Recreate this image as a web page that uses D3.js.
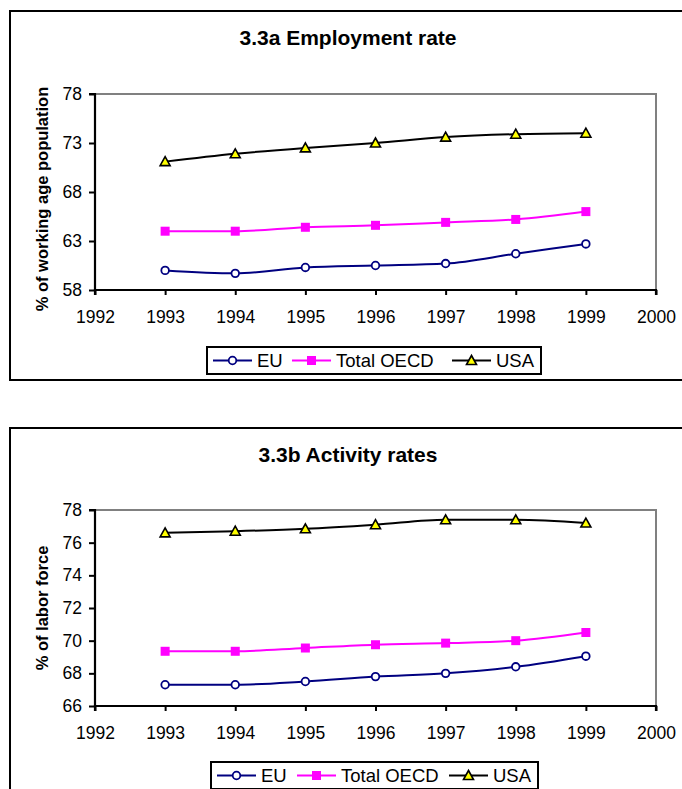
<!DOCTYPE html>
<html>
<head>
<meta charset="utf-8">
<script src="https://cdn.jsdelivr.net/npm/d3@7"></script>
<style>
  html, body { margin: 0; padding: 0; background: #fff; }
  svg { display: block; font-family: "Liberation Sans", Arial, sans-serif; }
</style>
</head>
<body>
<svg id="chart" width="682" height="789"></svg>
<script>
// Years shown on the x axis and their tick labels
const years = [1993, 1994, 1995, 1996, 1997, 1998, 1999];
const yearTicks = [1992, 1993, 1994, 1995, 1996, 1997, 1998, 1999, 2000];

// 3.3a Employment rate (% of working age population)
const employmentEU   = [60.0, 59.7, 60.3, 60.5, 60.7, 61.7, 62.7];
const employmentOECD = [64.0, 64.0, 64.4, 64.6, 64.9, 65.2, 66.0];
const employmentUSA  = [71.1, 71.9, 72.5, 73.0, 73.6, 73.9, 74.0];
const employmentTicks = [58, 63, 68, 73, 78];

// 3.3b Activity rates (% of labor force)
const activityEU   = [67.3, 67.3, 67.5, 67.8, 68.0, 68.4, 69.05];
const activityOECD = [69.35, 69.35, 69.55, 69.75, 69.85, 70.0, 70.5];
const activityUSA  = [76.6, 76.7, 76.85, 77.1, 77.4, 77.4, 77.2];
const activityTicks = [66, 68, 70, 72, 74, 76, 78];

const seriesNames = ["EU", "Total OECD", "USA"];

const svg = d3.select("#chart");

const styles = {
  "EU":         { color: "#000080", marker: "circle" },
  "Total OECD": { color: "#FF00FF", marker: "square" },
  "USA":        { color: "#000000", marker: "triangle" }
};

function drawMarker(g, type, x, y) {
  if (type === "circle") {
    g.append("circle").attr("cx", x).attr("cy", y).attr("r", 3.8)
      .attr("fill", "#fff").attr("stroke", "#000080").attr("stroke-width", 1.8);
  } else if (type === "square") {
    g.append("rect").attr("x", x - 4.5).attr("y", y - 4.5).attr("width", 9).attr("height", 9)
      .attr("fill", "#FF00FF");
  } else {
    const s = 5;
    g.append("path")
      .attr("d", `M${x},${y - s} L${x + s},${y + s * 0.8} L${x - s},${y + s * 0.8} Z`)
      .attr("fill", "#FFFF00").attr("stroke", "#000").attr("stroke-width", 1.6)
      .attr("stroke-linejoin", "miter");
  }
}

function drawPanel(opt) {
  const g = svg.append("g");

  // outer frame
  g.append("rect")
    .attr("x", 10).attr("y", opt.boxTop)
    .attr("width", 720).attr("height", opt.boxHeight)
    .attr("fill", "none").attr("stroke", "#000").attr("stroke-width", 2);

  // title
  g.append("text")
    .attr("x", 348).attr("y", opt.titleY)
    .attr("text-anchor", "middle")
    .attr("font-size", 21).attr("font-weight", "bold")
    .text(opt.title);

  const x = d3.scaleLinear().domain([1992, 2000]).range([95, 656]);
  const y = d3.scaleLinear().domain(opt.yDomain).range([opt.plotBottom, opt.plotTop]);

  // plot area frame (top and right edges in gray)
  g.append("path")
    .attr("d", `M${x(1992)},${y(opt.yDomain[1])} H${x(2000)} V${y(opt.yDomain[0])}`)
    .attr("fill", "none").attr("stroke", "#808080").attr("stroke-width", 2);

  // y axis
  const yAxis = g.append("g")
    .attr("transform", `translate(${x(1992)},0)`)
    .call(d3.axisLeft(y).tickValues(opt.yTicks).tickSize(6).tickPadding(7).tickFormat(d3.format("d")));
  yAxis.selectAll(".tick line").attr("stroke", "#000").attr("stroke-width", 2);
  yAxis.selectAll(".tick text")
    .attr("font-size", 17.5).attr("fill", "#000")
    .attr("font-family", "'Liberation Sans', Arial, sans-serif");

  // x axis
  const xAxis = g.append("g")
    .attr("transform", `translate(0,${y(opt.yDomain[0])})`)
    .call(d3.axisBottom(x).tickValues(yearTicks).tickSize(5).tickPadding(16).tickFormat(d3.format("d")));
  xAxis.selectAll(".tick line").attr("stroke", "#000").attr("stroke-width", 2);
  xAxis.selectAll(".tick text")
    .attr("font-size", 17.5).attr("fill", "#000")
    .attr("font-family", "'Liberation Sans', Arial, sans-serif");

  // axis lines drawn solid black, without the outer end caps
  yAxis.select(".domain").attr("stroke", "#000").attr("stroke-width", 2.2)
    .attr("d", `M-6,${opt.plotTop}H0V${opt.plotBottom}`);
  xAxis.select(".domain").attr("stroke", "#000").attr("stroke-width", 2.2)
    .attr("d", `M${x(1992)},5V0H${x(2000)}V5`);

  // y axis title
  g.append("text")
    .attr("transform", `translate(${opt.yTitleX},${(opt.plotTop + opt.plotBottom) / 2 + opt.yTitleShift}) rotate(-90)`)
    .attr("text-anchor", "middle")
    .attr("font-size", 16.5).attr("font-weight", "bold")
    .text(opt.yTitle);

  // series
  const line = d3.line()
    .x((d, i) => x(years[i]))
    .y(d => y(d))
    .curve(d3.curveMonotoneX);

  opt.series.forEach((vals, k) => {
    const st = styles[seriesNames[k]];
    g.append("path")
      .attr("d", line(vals))
      .attr("fill", "none")
      .attr("stroke", st.color)
      .attr("stroke-width", 2);
  });
  opt.series.forEach((vals, k) => {
    const st = styles[seriesNames[k]];
    const mg = g.append("g");
    vals.forEach((v, i) => drawMarker(mg, st.marker, x(years[i]), y(v)));
  });

  // legend
  const lg = g.append("g");
  lg.append("rect")
    .attr("x", opt.legend.x).attr("y", opt.legend.y)
    .attr("width", opt.legend.w).attr("height", opt.legend.h)
    .attr("fill", "#fff").attr("stroke", "#000").attr("stroke-width", 2);
  const cy = opt.legend.y + opt.legend.h / 2;
  seriesNames.forEach((name, k) => {
    const lx = opt.legend.items[k];
    const st = styles[name];
    lg.append("line")
      .attr("x1", lx).attr("x2", lx + 39).attr("y1", cy).attr("y2", cy)
      .attr("stroke", st.color).attr("stroke-width", 2);
    drawMarker(lg, st.marker, lx + 19.5, cy);
    lg.append("text")
      .attr("x", lx + 44).attr("y", cy + 6.5)
      .attr("font-size", 18.5)
      .text(name);
  });
}

drawPanel({
  boxTop: 11, boxHeight: 369,
  title: "3.3a Employment rate", titleY: 45,
  yDomain: [58, 78], yTicks: employmentTicks,
  plotTop: 94, plotBottom: 290,
  yTitle: "% of working age population", yTitleX: 48, yTitleShift: 7,
  series: [employmentEU, employmentOECD, employmentUSA],
  legend: { x: 207, y: 347, w: 334, h: 27, items: [213, 292, 452] }
});

drawPanel({
  boxTop: 428, boxHeight: 380,
  title: "3.3b Activity rates", titleY: 462,
  yDomain: [66, 78], yTicks: activityTicks,
  plotTop: 510, plotBottom: 706,
  yTitle: "% of labor force", yTitleX: 48, yTitleShift: 0,
  series: [activityEU, activityOECD, activityUSA],
  legend: { x: 211, y: 762, w: 327, h: 27, items: [217, 297, 449] }
});
</script>
</body>
</html>
